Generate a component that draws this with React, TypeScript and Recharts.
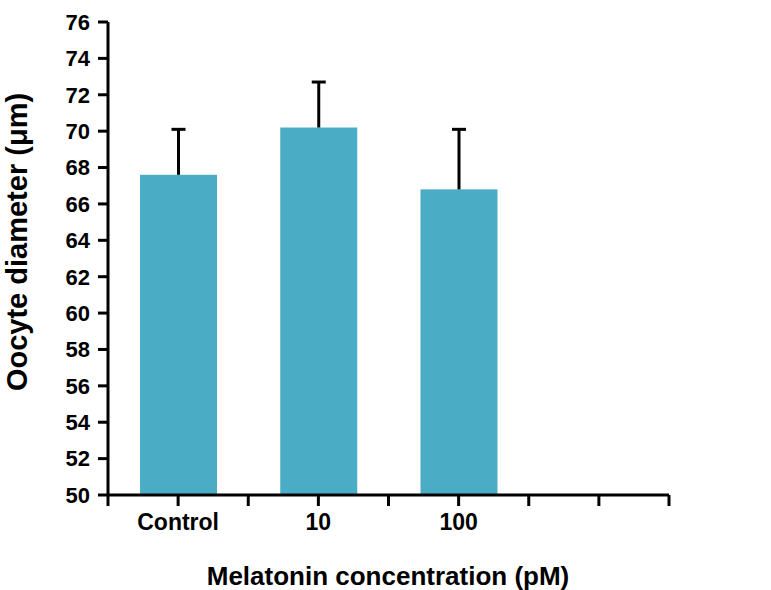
import React from "react";
import { BarChart, Bar, XAxis, YAxis, Label } from "recharts";

const categories = ["Control", "10", "100"];
const means = [67.6, 70.2, 66.8];
const errors = [2.5, 2.5, 3.3];
const yTicks = [50, 52, 54, 56, 58, 60, 62, 64, 66, 68, 70, 72, 74, 76];
const xTicks = [0, 0.5, 1, 1.5, 2, 2.5, 3, 3.5, 4];
const slotCount = 4;

const data = categories.map((name, i) => ({
  pos: i + 0.5,
  name,
  mean: means[i],
  err: errors[i],
}));

const yMin = yTicks[0];
const yMax = yTicks[yTicks.length - 1];
const font = "'Liberation Sans', Arial, sans-serif";

// bar plus an upward-only error whisker, scaled from the bar's own height
const BarWithError = (props: any) => {
  const { x, y, width, height, payload } = props;
  const pxPerUnit = height / (payload.mean - yMin);
  const eh = payload.err * pxPerUnit;
  const cx = x + width / 2;
  return (
    <g>
      <rect x={x} y={y} width={width} height={height} fill="#4BACC6" />
      <line x1={cx} y1={y} x2={cx} y2={y - eh} stroke="#000" strokeWidth={3} />
      <line x1={cx - 7} y1={y - eh} x2={cx + 7} y2={y - eh} stroke="#000" strokeWidth={3} />
    </g>
  );
};

const xLabel = (v: number) => {
  const i = v - 0.5;
  return Number.isInteger(i) && categories[i] ? categories[i] : "";
};

export default function App() {
  return (
    <div style={{ position: "absolute", left: 0, top: 0, background: "#fff" }}>
      <BarChart
        width={771}
        height={590}
        data={data}
        margin={{ top: 22, right: 102, left: 0, bottom: 0 }}
      >
        <XAxis
          type="number"
          dataKey="pos"
          domain={[0, slotCount]}
          ticks={xTicks}
          tickFormatter={xLabel}
          interval={0}
          height={95}
          tickSize={11}
          tickMargin={8}
          axisLine={{ stroke: "#000", strokeWidth: 3 }}
          tickLine={{ stroke: "#000", strokeWidth: 3 }}
          tick={{ fill: "#000", fontSize: 23, fontWeight: "bold", fontFamily: font }}
        >
          <Label
            content={() => (
              <text
                x={388}
                y={585}
                textAnchor="middle"
                fontSize={26}
                fontWeight="bold"
                fontFamily={font}
                fill="#000"
              >
                Melatonin concentration (pM)
              </text>
            )}
          />
        </XAxis>
        <YAxis
          domain={[yMin, yMax]}
          ticks={yTicks}
          interval={0}
          width={108}
          tickSize={10}
          tickMargin={8}
          axisLine={{ stroke: "#000", strokeWidth: 3 }}
          tickLine={{ stroke: "#000", strokeWidth: 3 }}
          tick={{ fill: "#000", fontSize: 22, fontWeight: "bold", fontFamily: font }}
        >
          <Label
            content={() => (
              <text
                transform="translate(27,242) rotate(-90)"
                textAnchor="middle"
                fontSize={29}
                fontWeight="bold"
                fontFamily={font}
                fill="#000"
              >
                Oocyte diameter (μm)
              </text>
            )}
          />
        </YAxis>
        <Bar dataKey="mean" barSize={77} shape={BarWithError} isAnimationActive={false} />
      </BarChart>
    </div>
  );
}
